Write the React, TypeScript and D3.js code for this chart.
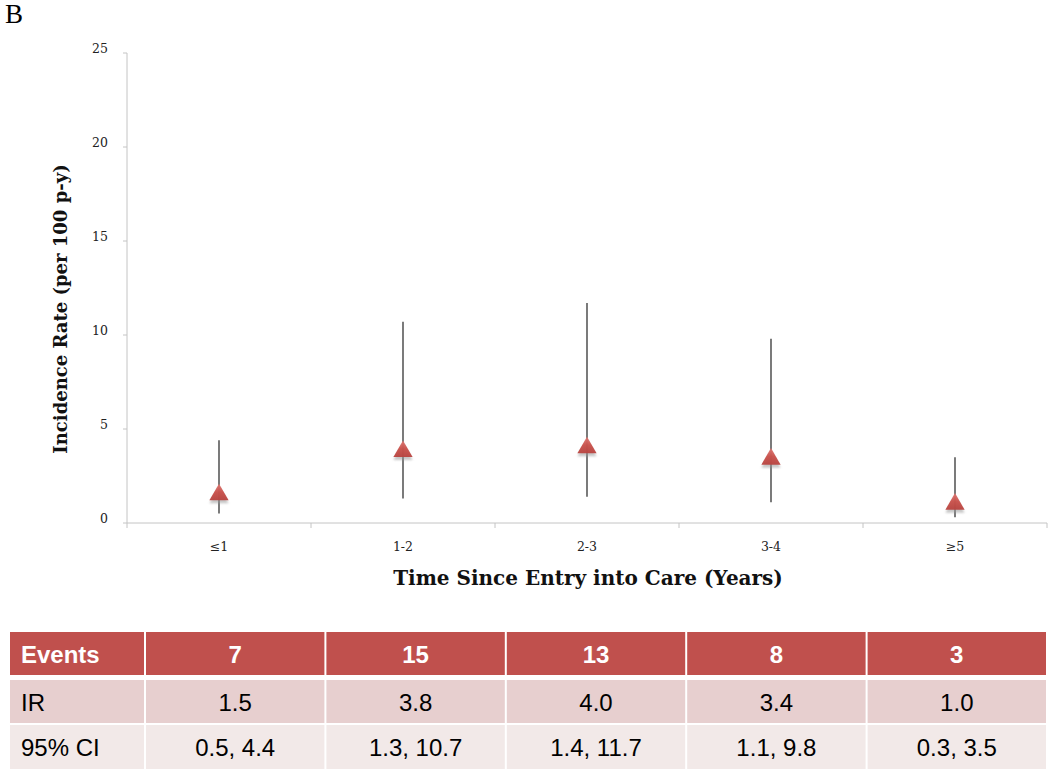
import React from "react";
import * as d3 from "d3";

const categories = ["≤1", "1-2", "2-3", "3-4", "≥5"];
const events = [7, 15, 13, 8, 3];
const irValues = [1.5, 3.8, 4.0, 3.4, 1.0];
const ciLow = [0.5, 1.3, 1.4, 1.1, 0.3];
const ciHigh = [4.4, 10.7, 11.7, 9.8, 3.5];
const yTicks = [0, 5, 10, 15, 20, 25];
const rowLabels = ["Events", "IR", "95% CI"];

const W = 1050;
const H = 774;
const plot = { left: 127, right: 1047, top: 53, bottom: 523 };
const table = { left: 10, right: 1046, firstCol: 144, rows: [[632, 675], [680, 723], [725, 769]] };

export default function App() {
  const x = d3.scaleBand<string>().domain(categories).range([plot.left, plot.right]).padding(0);
  const y = d3.scaleLinear().domain([0, 25]).range([plot.bottom, plot.top]);
  const tri = d3.symbol().type(d3.symbolTriangle).size(160)();
  const cols = d3.scaleBand<number>().domain(d3.range(categories.length)).range([table.firstCol, table.right]).padding(0);
  const serif = "'DejaVu Serif', 'Liberation Serif', serif";
  const times = "'Liberation Serif', serif";
  const sans = "'Liberation Sans', Arial, sans-serif";
  const axisColor = "#c4c4c4";
  const rowFill = ["#c0504d", "#e7cfcf", "#f2e9e8"];
  const rowTexts = [
    events.map(String),
    irValues.map((v) => v.toFixed(1)),
    ciLow.map((l, i) => `${l.toFixed(1)}, ${ciHigh[i].toFixed(1)}`),
  ];

  return (
    <svg width={W} height={H} style={{ position: "absolute", left: 0, top: 0, background: "#fff" }}>
      <defs>
        <linearGradient id="triGrad" x1="0" y1="0" x2="0" y2="1">
          <stop offset="0" stopColor="#e07a75" />
          <stop offset="0.5" stopColor="#c9504a" />
          <stop offset="1" stopColor="#b8433f" />
        </linearGradient>
        <filter id="blur" x="-50%" y="-50%" width="200%" height="200%">
          <feGaussianBlur stdDeviation="1.2" />
        </filter>
      </defs>
      <text x={5} y={23} fontFamily={times} fontSize={27} fill="#000">B</text>

      {/* Y axis */}
      <line x1={plot.left} x2={plot.left} y1={plot.top} y2={plot.bottom} stroke={axisColor} strokeWidth={1} />
      {yTicks.map((t) => (
        <g key={t} transform={`translate(0,${y(t)})`}>
          <line x1={plot.left - 4} x2={plot.left} stroke={axisColor} />
          <text x={plot.left - 19} y={0} textAnchor="end" fontFamily={serif} fontSize={12.5} fill="#222">{t}</text>
        </g>
      ))}
      {/* X axis */}
      <line x1={plot.left} x2={plot.right} y1={plot.bottom} y2={plot.bottom} stroke={axisColor} strokeWidth={1} />
      {categories.map((c, i) => (
        <g key={c}>
          <line x1={x(c)!} x2={x(c)!} y1={plot.bottom} y2={plot.bottom + 5} stroke={axisColor} />
          {i === categories.length - 1 && (
            <line x1={plot.right} x2={plot.right} y1={plot.bottom} y2={plot.bottom + 5} stroke={axisColor} />
          )}
          <text x={x(c)! + x.bandwidth() / 2} y={551} textAnchor="middle" fontFamily={serif} fontSize={12.5} fill="#222">{c}</text>
        </g>
      ))}

      {/* Error bars and markers */}
      {categories.map((c, i) => {
        const cx = x(c)! + x.bandwidth() / 2;
        return (
          <g key={"m" + c}>
            <line x1={cx} x2={cx} y1={y(ciLow[i])} y2={y(ciHigh[i])} stroke="#222" strokeWidth={1.2} />
            <path d={tri!} transform={`translate(${cx},${y(irValues[i]) + 3})`} fill="#999" opacity={0.55} filter="url(#blur)" />
            <path d={tri!} transform={`translate(${cx},${y(irValues[i])})`} fill="url(#triGrad)" opacity={0.95} />
          </g>
        );
      })}

      {/* Axis titles */}
      <text transform={`translate(67,${(plot.top + plot.bottom) / 2 + 21}) rotate(-90)`} textAnchor="middle" fontFamily={serif} fontWeight="bold" fontSize={18} fill="#111">Incidence Rate (per 100 p-y)</text>
      <text x={588} y={585} textAnchor="middle" fontFamily={serif} fontWeight="bold" fontSize={20} fill="#111">Time Since Entry into Care (Years)</text>

      {/* Table */}
      {table.rows.map(([y0, y1], r) => (
        <g key={"r" + r}>
          <rect x={table.left} y={y0} width={table.firstCol - table.left} height={y1 - y0} fill={rowFill[r]} />
          {categories.map((_, j) => (
            <rect key={j} x={cols(j)! + 2} y={y0} width={cols.bandwidth() - 2} height={y1 - y0} fill={rowFill[r]} />
          ))}
          <text x={21} y={(y0 + y1) / 2 + 9} fontFamily={sans} fontSize={24} fontWeight={r === 0 ? "bold" : "normal"} fill={r === 0 ? "#fff" : "#000"}>{rowLabels[r]}</text>
          {rowTexts[r].map((t, j) => (
            <text key={j} x={cols(j)! + 1 + cols.bandwidth() / 2} y={(y0 + y1) / 2 + 9} textAnchor="middle" fontFamily={sans} fontSize={24} fontWeight={r === 0 ? "bold" : "normal"} fill={r === 0 ? "#fff" : "#000"}>{t}</text>
          ))}
        </g>
      ))}
    </svg>
  );
}
